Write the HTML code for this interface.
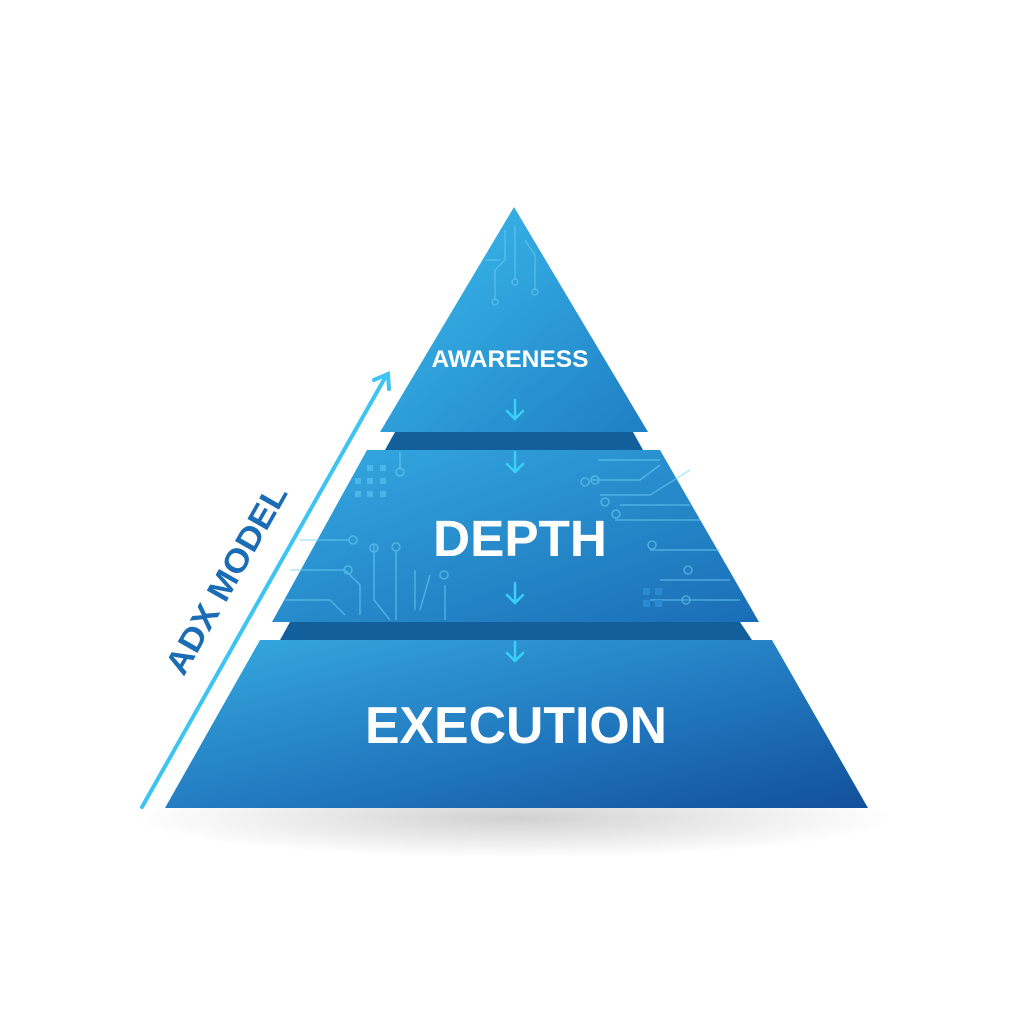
<!DOCTYPE html>
<html><head><meta charset="utf-8"><style>
html,body{margin:0;padding:0;background:#fff;width:1024px;height:1024px;overflow:hidden}
</style></head><body>
<svg width="1024" height="1024" viewBox="0 0 1024 1024" xmlns="http://www.w3.org/2000/svg">
<defs>
<linearGradient id="g1" x1="0" y1="0" x2="1" y2="1">
<stop offset="0" stop-color="#3cbdee"/><stop offset="1" stop-color="#1f7fc4"/></linearGradient>
<linearGradient id="g2" x1="0" y1="0" x2="1" y2="1">
<stop offset="0" stop-color="#34aae2"/><stop offset="1" stop-color="#1a6db5"/></linearGradient>
<linearGradient id="g3" x1="0" y1="0" x2="1" y2="1">
<stop offset="0" stop-color="#36aae0"/><stop offset="0.6" stop-color="#1f74bb"/><stop offset="1" stop-color="#12509a"/></linearGradient>
<radialGradient id="sh" cx="0.5" cy="0.5" r="0.5">
<stop offset="0" stop-color="#000" stop-opacity="0.18"/><stop offset="1" stop-color="#000" stop-opacity="0"/></radialGradient>
</defs>
<ellipse cx="515" cy="818" rx="380" ry="40" fill="url(#sh)"/>
<polygon points="260,640 772,640 868,808 165,808" fill="url(#g3)"/>
<polygon points="290,622 740,622 752,640 280,640" fill="#135f9b"/>
<polygon points="367,450 660,450 759,622 272,622" fill="url(#g2)"/>
<g stroke="#6fd3f7" stroke-width="1.5" fill="none" opacity="0.55">
<path d="M300,540 H350 M290,570 H345 L360,585 V615 M285,600 H330 L345,615 M374,545 V600 L390,620 M396,550 V620 M415,570 V610 M430,575 L420,610 M445,585 V620"/>
<circle cx="353" cy="540" r="4"/><circle cx="348" cy="570" r="4"/><circle cx="374" cy="548" r="4"/><circle cx="396" cy="547" r="4"/><circle cx="444" cy="575" r="4"/>
<path d="M598,460 H660 M590,480 H640 L660,465 M600,495 H650 L690,470 M620,505 H690 M615,520 H700 M650,550 H720 M660,580 H730 M650,600 H740"/>
<circle cx="595" cy="480" r="4"/><circle cx="585" cy="482" r="4"/><circle cx="605" cy="502" r="4"/><circle cx="616" cy="514" r="4"/><circle cx="652" cy="545" r="4"/><circle cx="688" cy="570" r="4"/><circle cx="686" cy="600" r="4"/>
<path d="M400,452 V470"/><circle cx="400" cy="472" r="4"/>
</g>
<g fill="#5cc8f2" opacity="0.6">
<rect x="367" y="465" width="6" height="6"/><rect x="380" y="465" width="6" height="6"/>
<rect x="355" y="478" width="6" height="6"/><rect x="367" y="478" width="6" height="6"/><rect x="380" y="478" width="6" height="6"/>
<rect x="355" y="491" width="6" height="6"/><rect x="367" y="491" width="6" height="6"/><rect x="380" y="491" width="6" height="6"/>
</g>
<g fill="#2b8ad4"><rect x="643" y="588" width="7" height="7"/><rect x="655" y="588" width="7" height="7"/><rect x="643" y="600" width="7" height="7"/><rect x="655" y="600" width="7" height="7"/></g>
<polygon points="395,432 633,432 643,450 385,450" fill="#135f9b"/>
<polygon points="514,207 648,432 380,432" fill="url(#g1)"/>
<g stroke="#7fdcf8" stroke-width="1.2" fill="none" opacity="0.5">
<path d="M505,230 V260 L495,270 V300 M515,225 V280 M525,240 L535,255 V290 M500,260 H485"/>
<circle cx="495" cy="302" r="3"/><circle cx="535" cy="292" r="3"/><circle cx="515" cy="282" r="3"/>
</g>
<g font-family="Liberation Sans, sans-serif" font-weight="bold" fill="#fff" text-anchor="middle">
<text x="510" y="367" font-size="24" textLength="157" lengthAdjust="spacingAndGlyphs">AWARENESS</text>
<text x="520" y="556" font-size="51" textLength="174" lengthAdjust="spacingAndGlyphs">DEPTH</text>
<text x="516" y="743" font-size="52" textLength="302" lengthAdjust="spacingAndGlyphs">EXECUTION</text>
</g>
<g stroke="#38d0f8" stroke-width="2.5" fill="none" stroke-linecap="round">
<path d="M515,400 V418 M507,411 L515,419 L523,411"/>
<path d="M515,452 V472 M507,464 L515,472 L523,464"/>
<path d="M515,583 V603 M507,595 L515,603 L523,595"/>
<path d="M515,642 V660 M507,653 L515,661 L523,653"/>
</g>
<g stroke="#3ec4f2" stroke-width="4" fill="none" stroke-linecap="round">
<path d="M142,807 L386,376"/>
<path d="M374,380 L388,374 L389,389"/>
</g>
<text x="0" y="0" transform="translate(236,585) rotate(-60.4)" font-family="Liberation Sans, sans-serif" font-weight="bold" font-size="33" fill="#1a6cb5" text-anchor="middle" textLength="212" lengthAdjust="spacingAndGlyphs">ADX MODEL</text>
</svg>
</body></html>
